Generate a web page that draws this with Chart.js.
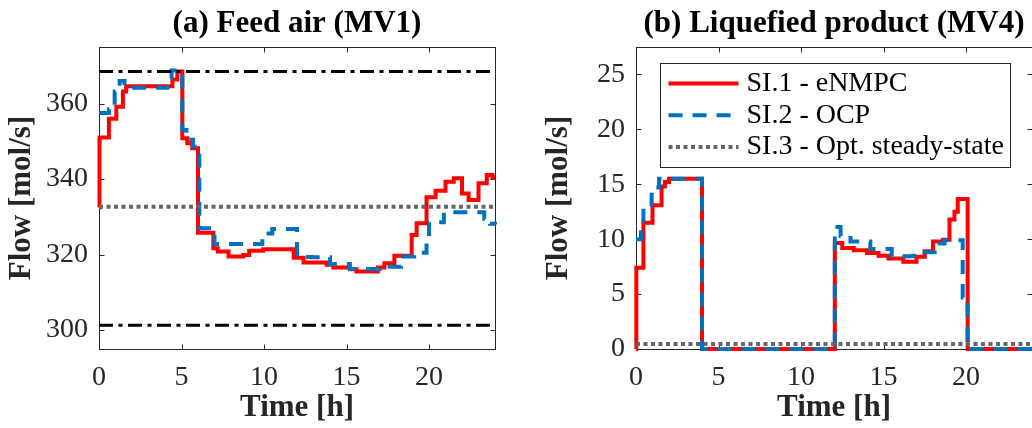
<!DOCTYPE html>
<html>
<head>
<meta charset="utf-8">
<script src="https://cdn.jsdelivr.net/npm/chart.js@4.4.0/dist/chart.umd.min.js"></script>
<style>
    html, body { margin: 0; padding: 0; background: #fff; overflow: hidden; }
    #wrap { position: relative; width: 1032px; height: 428px; overflow: hidden; }
    .panel { position: absolute; top: 0; }
</style>
</head>
<body>
<div id="wrap">
    <canvas id="feedChart" class="panel" width="520" height="428" style="left:0"></canvas>
    <canvas id="liquidChart" class="panel" width="520" height="428" style="left:537px"></canvas>
</div>
<script>
// Axis ranges and tick labels
const timeRange = [0, 24];
const timeTicks = [0, 5, 10, 15, 20];
const feedRange = [295, 375];
const feedTicks = [300, 320, 340, 360];
const liquidRange = [0, 27.5];
const liquidTicks = [0, 5, 10, 15, 20, 25];

const legendLabels = ['SI.1 - eNMPC', 'SI.2 - OCP', 'SI.3 - Opt. steady-state'];

// (a) Feed air (MV1) - stairs, value holds from each time until the next
const feedEnmpcTime = [0, 0.03, 0.6, 1.05, 1.45, 1.65, 4.45, 4.75, 5.05, 5.35, 5.65, 6.0, 6.93, 7.2, 7.85, 8.75, 9.1, 9.95, 11.8, 12.4, 13.8, 14.2, 15.2, 15.6, 16.9, 17.3, 17.9, 18.95, 19.25, 19.85, 20.4, 21.0, 21.5, 22.0, 22.4, 23.0, 23.5, 23.85, 24];
const feedEnmpcFlow = [332.5, 351.0, 356.0, 359.2, 363.2, 364.6, 366.4, 368.5, 350.8, 349.5, 348.2, 325.8, 321.7, 320.8, 319.5, 319.9, 321.0, 321.4, 319.2, 317.9, 317.3, 316.6, 316.1, 315.5, 316.6, 317.7, 319.7, 325.2, 328.3, 335.2, 336.9, 339.3, 340.2, 336.2, 334.5, 338.9, 341.1, 340.4, 340.4];
const feedOcpTime = [0, 0.6, 0.95, 1.25, 1.55, 4.15, 4.4, 5.05, 5.3, 5.7, 6.08, 7.0, 9.9, 10.5, 12.0, 12.9, 14.0, 15.2, 17.0, 18.3, 19.1, 19.85, 20.0, 20.9, 23.35, 23.7, 24];
const feedOcpFlow = [357.5, 358.5, 363.2, 366.0, 364.2, 366.7, 368.8, 353.0, 350.4, 348.6, 327.0, 322.8, 325.6, 326.8, 319.4, 319.3, 317.5, 316.2, 316.8, 319.5, 320.5, 323.8, 328.6, 331.2, 329.5, 328.2, 328.0];
const feedSteadyState = 332.7;
const feedBounds = [368.5, 301.3];

// (b) Liquefied product (MV4)
const liquidEnmpcTime = [0, 0.02, 0.45, 1.0, 1.55, 1.75, 2.0, 4.0, 12.05, 12.5, 13.2, 14.0, 14.7, 15.3, 16.2, 17.0, 17.5, 18.0, 18.6, 19.0, 19.3, 19.5, 20.1, 24];
const liquidEnmpcFlow = [0, 7.4, 11.5, 13.1, 14.8, 15.2, 15.5, 0, 9.65, 9.2, 9.0, 8.75, 8.5, 8.25, 7.95, 8.4, 8.9, 9.8, 9.95, 11.8, 12.5, 13.65, 0, 0];
const liquidOcpTime = [0, 0.3, 0.45, 0.95, 1.4, 4.0, 12.05, 12.4, 13.0, 14.2, 15.5, 16.8, 17.3, 18.1, 18.7, 19.8, 20.1, 24];
const liquidOcpFlow = [10.0, 10.9, 12.6, 14.7, 15.5, 0, 11.1, 10.3, 9.8, 9.1, 8.45, 8.5, 8.8, 9.6, 9.9, 4.7, 0, 0];
const liquidSteadyState = 0.46;

const SERIF = "'Liberation Serif', 'Times New Roman', serif";
const AXIS_COLOR = '#262626';
const RED = '#ff0000';
const BLUE = '#0072bd';
const GRAY = '#666666';

function toPoints(times, values) {
    return times.map((t, i) => ({ x: t, y: values[i] }));
}

function flatLine(value) {
    return timeRange.map(t => ({ x: t, y: value }));
}

function lineDataset(label, data, color, width, dash, stepped) {
    return {
        label: label,
        data: data,
        borderColor: color,
        borderWidth: width,
        borderDash: dash,
        borderCapStyle: 'butt',
        borderJoinStyle: 'miter',
        stepped: stepped,
        fill: false,
        clip: 4,
        pointRadius: 0,
        tension: 0
    };
}

// MATLAB style box with inward ticks on all four sides
const axesBox = {
    id: 'axesBox',
    beforeDatasetsDraw(chart) {
        const { ctx, chartArea: a, scales: { x, y } } = chart;
        const L = Math.round(a.left) + 0.5, R = Math.round(a.right) + 0.5;
        const T = Math.round(a.top) + 0.5, B = Math.round(a.bottom) + 0.5;
        ctx.save();
        ctx.strokeStyle = AXIS_COLOR;
        ctx.lineWidth = 1;
        ctx.strokeRect(L, T, R - L, B - T);
        ctx.beginPath();
        x.ticks.forEach(t => {
            const px = Math.round(x.getPixelForValue(t.value)) + 0.5;
            ctx.moveTo(px, B); ctx.lineTo(px, B - 5);
            ctx.moveTo(px, T); ctx.lineTo(px, T + 5);
        });
        y.ticks.forEach(t => {
            const py = Math.round(y.getPixelForValue(t.value)) + 0.5;
            ctx.moveTo(L, py); ctx.lineTo(L + 5, py);
            ctx.moveTo(R, py); ctx.lineTo(R - 5, py);
        });
        ctx.stroke();
        ctx.restore();
    }
};

// Legend box drawn inside the plot area, in legendLabels order
const boxLegend = {
    id: 'boxLegend',
    afterDatasetsDraw(chart, args, opts) {
        if (!opts.show) return;
        const { ctx, chartArea: a } = chart;
        const left = Math.round(a.left) + 24.5, top = Math.round(a.top) + 16.5;
        const width = 350, height = 104;
        ctx.save();
        ctx.fillStyle = '#fff';
        ctx.fillRect(left, top, width, height);
        ctx.strokeStyle = AXIS_COLOR;
        ctx.lineWidth = 1;
        ctx.strokeRect(left, top, width, height);

        legendLabels.forEach((label, i) => {
            const ds = chart.data.datasets.find(d => d.label === label);
            if (!ds) return;
            const rowY = top + 20 + i * 31.7;
            ctx.strokeStyle = ds.borderColor;
            ctx.lineWidth = ds.borderWidth;
            ctx.setLineDash(ds.borderDash || []);
            ctx.beginPath();
            ctx.moveTo(left + 8, rowY);
            ctx.lineTo(left + 78, rowY);
            ctx.stroke();
            ctx.setLineDash([]);
            ctx.fillStyle = '#000';
            ctx.font = '28px ' + SERIF;
            ctx.textBaseline = 'middle';
            ctx.fillText(label, left + 86, rowY);
        });
        ctx.restore();
    }
};

function panelOptions(title, yRange, yTicks, showLegend) {
    return {
        responsive: false,
        animation: false,
        devicePixelRatio: 1,
        events: [],
        layout: { padding: { top: 0, right: 25, bottom: 0, left: 0 } },
        plugins: {
            legend: { display: false },
            tooltip: { enabled: false },
            boxLegend: { show: showLegend },
            title: {
                display: true,
                fullSize: false,
                text: title,
                color: '#000',
                font: { family: SERIF, size: 31, weight: 'bold', lineHeight: 1.2 },
                padding: { top: 5.4, bottom: 4.4 }
            }
        },
        scales: {
            x: {
                type: 'linear',
                min: timeRange[0],
                max: timeRange[1],
                grid: { display: false, drawTicks: false },
                border: { display: false },
                afterBuildTicks: scale => { scale.ticks = timeTicks.map(v => ({ value: v })); },
                afterFit: scale => { scale.height = 79; },
                ticks: { autoSkip: false, maxRotation: 0, padding: 12, color: AXIS_COLOR, font: { family: SERIF, size: 28 } },
                title: {
                    display: true,
                    text: 'Time [h]',
                    color: AXIS_COLOR,
                    padding: { top: 0, bottom: 1.5 },
                    font: { family: SERIF, size: 31, weight: 'bold', lineHeight: 1.2 }
                }
            },
            y: {
                type: 'linear',
                min: yRange[0],
                max: yRange[1],
                grid: { display: false, drawTicks: false },
                border: { display: false },
                afterBuildTicks: scale => { scale.ticks = yTicks.map(v => ({ value: v })); },
                afterFit: scale => { scale.width = 99; },
                ticks: { autoSkip: false, padding: 11, color: AXIS_COLOR, font: { family: SERIF, size: 28 } },
                title: {
                    display: true,
                    text: 'Flow [mol/s]',
                    color: AXIS_COLOR,
                    padding: { top: 3.4, bottom: 0 },
                    font: { family: SERIF, size: 31, weight: 'bold', lineHeight: 1.2 }
                }
            }
        }
    };
}

// Dataset index 0 is drawn on top, so limits come first and eNMPC last
new Chart(document.getElementById('feedChart'), {
    type: 'line',
    data: {
        datasets: [
            lineDataset('upper bound', flatLine(feedBounds[0]), '#000', 3, [14, 5.5, 4, 5.5], false),
            lineDataset('lower bound', flatLine(feedBounds[1]), '#000', 3, [14, 5.5, 4, 5.5], false),
            lineDataset(legendLabels[2], flatLine(feedSteadyState), GRAY, 4, [4, 3.5], false),
            lineDataset(legendLabels[1], toPoints(feedOcpTime, feedOcpFlow), BLUE, 4, [14, 10], true),
            lineDataset(legendLabels[0], toPoints(feedEnmpcTime, feedEnmpcFlow), RED, 4, [], true)
        ]
    },
    options: panelOptions('(a) Feed air (MV1)', feedRange, feedTicks, false),
    plugins: [axesBox, boxLegend]
});

new Chart(document.getElementById('liquidChart'), {
    type: 'line',
    data: {
        datasets: [
            lineDataset(legendLabels[2], flatLine(liquidSteadyState), GRAY, 4, [4, 3.5], false),
            lineDataset(legendLabels[1], toPoints(liquidOcpTime, liquidOcpFlow), BLUE, 4, [14, 10], true),
            lineDataset(legendLabels[0], toPoints(liquidEnmpcTime, liquidEnmpcFlow), RED, 4, [], true)
        ]
    },
    options: panelOptions('(b) Liquefied product (MV4)', liquidRange, liquidTicks, true),
    plugins: [axesBox, boxLegend]
});
</script>
</body>
</html>
